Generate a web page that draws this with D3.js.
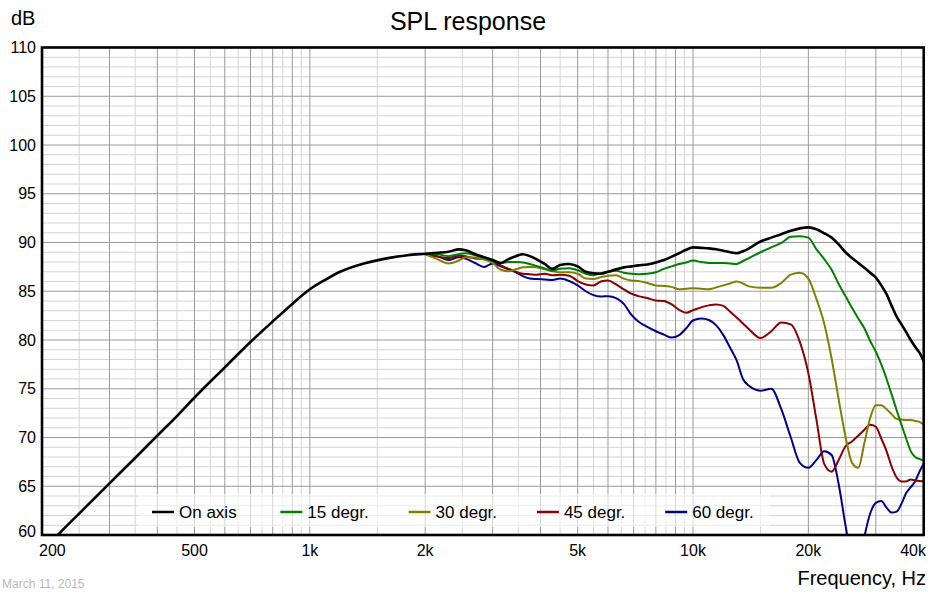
<!DOCTYPE html>
<html><head><meta charset="utf-8">
<script src="https://cdn.jsdelivr.net/npm/d3@7/dist/d3.min.js"></script>
<style>body{margin:0;background:#fff}svg{display:block}text{font-family:Arial,"Liberation Sans",sans-serif}</style>
</head><body>
<svg id="c" width="930" height="593"></svg>
<script>
// ---- data ----
const seriesNames = ["On axis","15 degr.","30 degr.","45 degr.","60 degr."];
const seriesColors = ["#000000","#008000","#808000","#8b0000","#00008b"];
const xTickValues = [200,500,1000,2000,5000,10000,20000,40000];
const xTickLabels = ["200","500","1k","2k","5k","10k","20k","40k"];
const yTickValues = [60,65,70,75,80,85,90,95,100,105,110];

const lowFreq = [200,220,250,300,350,400,450,500,600,700,800,900,1000,1100,1200,1400,1600,1800];
const lowOnAxis = [58.2,60.0,62.2,65.3,67.9,70.2,72.2,74.1,77.2,79.8,81.9,83.7,85.2,86.2,87.0,87.9,88.4,88.7];

const freq = [2000,2150,2300,2450,2550,2700,2850,3000,3150,3300,3450,3600,3750,3900,4100,4300,4500,4750,
  5000,5250,5500,5750,6000,6300,6600,6900,7200,7600,8000,8400,8800,9200,9600,
  10000,10500,11000,11500,12000,12500,13000,13500,14000,15000,16000,17000,18000,19000,
  20000,21000,22000,23000,24000,25000,26000,27000,28000,29000,30000,31000,32000,33000,34000,35000,36000,37000,38000,39000,40000];

const onAxis = [88.85,88.95,89.05,89.3,89.2,88.8,88.5,88.2,87.9,88.3,88.6,88.8,88.6,88.3,87.8,87.3,87.7,87.8,
  87.55,87.0,86.85,86.8,87.0,87.25,87.45,87.55,87.65,87.75,87.95,88.2,88.55,88.9,89.25,
  89.5,89.45,89.4,89.3,89.15,89.0,88.9,89.1,89.4,90.1,90.5,90.85,91.2,91.45,
  91.55,91.35,90.95,90.5,89.8,89.0,88.4,87.9,87.4,86.9,86.4,85.6,84.7,83.5,82.4,81.6,80.8,80.0,79.3,78.7,77.8];

const deg15 = [88.85,88.8,88.6,88.8,88.9,88.7,88.4,88.1,87.9,88.0,88.0,87.95,87.8,87.6,87.35,87.1,87.3,87.35,
  87.15,86.8,86.65,86.85,87.0,87.1,86.9,86.8,86.75,86.8,86.95,87.3,87.55,87.8,87.95,
  88.15,88.0,87.9,87.9,87.9,87.85,87.8,88.1,88.4,89.0,89.5,89.95,90.6,90.65,
  90.5,89.3,88.3,87.2,85.75,84.5,83.3,82.2,81.2,79.9,78.8,77.5,76.0,74.4,72.8,71.3,69.9,68.6,68.0,67.8,67.6];

const deg30 = [88.8,88.3,87.85,88.15,88.5,88.45,88.25,87.9,87.2,87.05,87.25,87.45,87.5,87.45,87.25,87.05,86.95,86.95,
  86.8,86.3,86.25,86.45,86.6,86.65,86.3,86.1,86.05,85.85,85.6,85.55,85.45,85.2,85.25,
  85.3,85.25,85.2,85.4,85.6,85.8,86.0,85.8,85.5,85.35,85.35,85.85,86.7,86.9,
  86.3,84.2,81.7,78.1,73.9,70.1,67.4,66.9,69.4,72.0,73.3,73.3,72.9,72.4,71.9,71.85,71.8,71.8,71.7,71.6,71.3];

const deg45 = [88.8,88.55,88.4,88.65,88.6,88.35,88.3,88.1,87.65,87.3,87.0,86.8,86.75,86.7,86.8,86.65,86.7,86.6,
  86.05,85.7,85.6,86.0,86.1,85.7,85.2,84.75,84.5,84.3,84.05,84.0,83.65,83.1,82.8,
  83.05,83.35,83.55,83.65,83.5,82.9,82.3,81.7,81.1,80.2,80.9,81.8,81.6,79.8,
  76.6,71.8,67.3,66.5,67.7,69.1,69.6,70.2,70.8,71.3,71.1,69.9,68.6,67.0,65.9,65.5,65.5,65.7,65.6,65.55,65.5];

const deg60 = [88.8,88.6,88.2,88.5,88.35,87.9,87.5,87.85,87.55,87.25,86.95,86.55,86.3,86.25,86.2,86.15,86.3,86.05,
  85.6,85.0,84.6,84.45,84.5,84.3,83.7,82.6,81.9,81.35,80.9,80.55,80.25,80.5,81.2,
  82.0,82.2,82.05,81.5,80.5,79.2,77.9,76.0,75.3,74.8,75.0,72.9,70.0,67.4,
  66.9,67.7,68.6,68.2,65.2,61.0,57.5,56.5,59.8,62.2,63.3,63.5,62.8,62.3,62.4,63.2,64.3,64.9,65.5,66.5,67.3];

// ---- chart ----
const svg = d3.select("#c");
const X0=42, X1=923.7, Y0=47.5, Y1=535;
const x = d3.scaleLog().domain([200,40000]).range([X0,X1]);
const y = d3.scaleLinear().domain([60,110]).range([Y1,Y0]);

// grid
const lightF=[], darkF=[];
[100,1000,10000].forEach(d=>{
  for(let m=1;m<10;m+=0.5){const f=d*m; if(f>200 && f<40000){(Number.isInteger(m)?darkF:lightF).push(f);}}
});
const g = svg.append("g");
g.selectAll(".vl").data(lightF).join("line").attr("x1",d=>x(d)).attr("x2",d=>x(d)).attr("y1",Y0).attr("y2",Y1).attr("stroke","#d4d4d4").attr("stroke-width",1);
const hLight=[], hDark=[];
for(let v=61; v<110; v++){ (v%5===0?hDark:hLight).push(v); }
g.selectAll(".hl").data(hLight).join("line").attr("x1",X0).attr("x2",X1).attr("y1",d=>y(d)).attr("y2",d=>y(d)).attr("stroke","#d4d4d4").attr("stroke-width",1);
g.selectAll(".vd").data(darkF).join("line").attr("x1",d=>x(d)).attr("x2",d=>x(d)).attr("y1",Y0).attr("y2",Y1).attr("stroke","#9a9a9a").attr("stroke-width",1);
g.selectAll(".hd").data(hDark).join("line").attr("x1",X0).attr("x2",X1).attr("y1",d=>y(d)).attr("y2",d=>y(d)).attr("stroke","#9a9a9a").attr("stroke-width",1);

// legend background (semi transparent)
svg.append("rect").attr("x",138).attr("y",494).attr("width",632).attr("height",33).attr("fill","#fff").attr("opacity",0.6);

// curves
svg.append("clipPath").attr("id","clip").append("rect").attr("x",X0).attr("y",Y0).attr("width",X1-X0).attr("height",Y1-Y0);
const line = d3.line().x(d=>x(d[0])).y(d=>y(d[1])).curve(d3.curveMonotoneX);
const allSeries = [
  lowFreq.map((f,i)=>[f,lowOnAxis[i]]).concat(freq.map((f,i)=>[f,onAxis[i]])),
  freq.map((f,i)=>[f,deg15[i]]),
  freq.map((f,i)=>[f,deg30[i]]),
  freq.map((f,i)=>[f,deg45[i]]),
  freq.map((f,i)=>[f,deg60[i]])
];
const cg = svg.append("g").attr("clip-path","url(#clip)");
[4,3,2,1,0].forEach(i=>{
  cg.append("path").attr("d",line(allSeries[i])).attr("fill","none")
    .attr("stroke",seriesColors[i]).attr("stroke-width",i===0?2.6:2).attr("stroke-linejoin","round");
});

// legend
seriesNames.forEach((n,i)=>{
  const lx = 152 + i*128.3;
  svg.append("line").attr("x1",lx).attr("x2",lx+22).attr("y1",512).attr("y2",512).attr("stroke",seriesColors[i]).attr("stroke-width",2.5);
  svg.append("text").attr("x",lx+27).attr("y",518).attr("font-size",17).attr("fill","#000").text(n);
});

// frame
svg.append("rect").attr("x",X0).attr("y",Y0).attr("width",X1-X0).attr("height",Y1-Y0).attr("fill","none").attr("stroke","#000").attr("stroke-width",2.6);

// axes labels
yTickValues.forEach(v=>{
  svg.append("text").attr("x",36).attr("y",Math.min(y(v),531)).attr("dy","0.35em").attr("text-anchor","end").attr("font-size",16).text(v);
});
xTickValues.forEach((v,i)=>{
  const last = i===xTickValues.length-1, first = i===0;
  svg.append("text").attr("x",first?39:(last?926:x(v))).attr("y",556)
    .attr("text-anchor",first?"start":(last?"end":"middle")).attr("font-size",16).text(xTickLabels[i]);
});
svg.append("text").attr("x",468).attr("y",30).attr("text-anchor","middle").attr("font-size",25).text("SPL response");
svg.append("text").attr("x",11).attr("y",25).attr("font-size",20).text("dB");
svg.append("text").attr("x",926).attr("y",585).attr("text-anchor","end").attr("font-size",20).text("Frequency, Hz");
svg.append("text").attr("x",2).attr("y",588).attr("font-size",12).attr("fill","#b8b8b8").text("March 11, 2015");
</script>
</body></html>
